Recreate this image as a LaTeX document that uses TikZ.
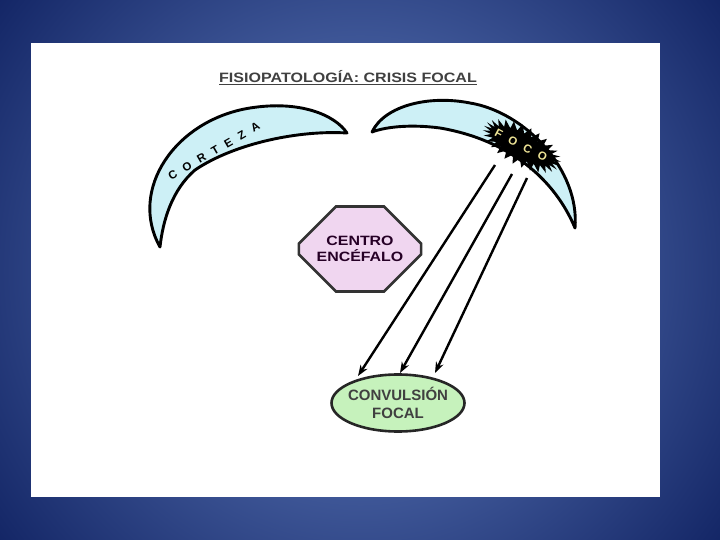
\documentclass[tikz,border=0pt]{standalone}
\usepackage{fontspec}
\setmainfont{Liberation Sans}
\newfontfamily\ancha[FakeStretch=1.18]{Liberation Sans}
\usetikzlibrary{shapes,arrows,arrows.meta,shadows}
\definecolor{celeste}{RGB}{205,240,246}
\definecolor{rosado}{RGB}{240,214,240}
\definecolor{verdoso}{RGB}{198,242,188}
\definecolor{fondoin}{RGB}{105,135,200}
\definecolor{fondoout}{RGB}{16,34,98}
\newcommand{\sep}{\hspace{8pt}}
\tikzstyle{lobulo} = [draw=black, line width=2.9pt, fill=celeste, line join=round]
\tikzstyle{centro} = [chamfered rectangle, chamfered rectangle xsep=22pt, chamfered rectangle ysep=22pt,
minimum width=120pt, minimum height=85pt, draw=black!80, line width=2.6pt, fill=rosado, align=center,
inner sep=0.5ex, text=black!50!violet!60!black, font=\ancha\fontsize{13.5}{15.5}\selectfont\bfseries]
\tikzstyle{io} = [ellipse, minimum width=133pt, minimum height=57pt, draw=black!85, line width=2.6pt,
fill=verdoso, align=center, inner ysep=0.5ex, inner xsep=-3pt, text=black!75,
font=\fontsize{15}{17.5}\selectfont\bfseries]
\tikzstyle{arrow} = [line width=2.4pt,-{Stealth[length=11pt,width=8pt]}]

\begin{document}
\begin{tikzpicture}[x=1pt,y=-1pt]
                        \begin{scope}
                            \clip (0,0) rectangle (720,540);
                            \shade[inner color=fondoin, outer color=fondoout] (360,270) circle (470);
                        \end{scope}
                        \fill[white] (31,43) rectangle (660,497);
                        \node[font=\ancha\fontsize{13.6}{15}\selectfont\bfseries, text=black!75]
                            (titulo) at (348,78) {\underline{FISIOPATOLOGÍA: CRISIS FOCAL}};
                        % corteza izquierda
                        \draw[lobulo] (160,247) .. controls (128,190) and (175,120) .. (250,108)
                            .. controls (300,100) and (335,115) .. (347,133)
                            .. controls (300,130) and (235,143) .. (195,170)
                            .. controls (172,190) and (163,220) .. (160,247) -- cycle;
                        % corteza derecha
                        \draw[lobulo] (372,132) .. controls (385,105) and (430,95) .. (470,103)
                            .. controls (525,112) and (580,170) .. (575,228)
                            .. controls (555,180) and (510,140) .. (440,128)
                            .. controls (410,124) and (385,127) .. (372,132) -- cycle;
                        \node[rotate=30, font=\fontsize{11.5}{12}\selectfont\bfseries]
                            (corteza) at (214,151) {C\sep O\sep R\sep T\sep E\sep Z\sep A};
                        % foco
                        \begin{scope}[shift={(522,146)}, rotate=-28]
                            \fill[black] plot[domain=0:360, samples=57]
                                ({(39+4*cos(28*\x))*cos(\x)}, {(16+4*cos(28*\x))*sin(\x)}) -- cycle;
                        \end{scope}
                        \node[rotate=-28, text={rgb,255:red,238;green,228;blue,150},
                            font=\fontsize{11.5}{12}\selectfont\bfseries]
                            (foco) at (521,145) {F\sep O\sep C\sep O};
                        \node[centro] (encefalo) at (360,249) {CENTRO\\ENCÉFALO};
                        \node[io] (convulsion) at (398,403) {CONVULSIÓN\\FOCAL};
                        \coordinate (f1) at (495,165);
                        \coordinate (f2) at (512,174);
                        \coordinate (f3) at (527,178);
                        \coordinate (c1) at (358,376);
                        \coordinate (c2) at (400,373);
                        \coordinate (c3) at (435,373);
                        \draw[arrow] (f1) -- (c1);
                        \draw[arrow] (f2) -- (c2);
                        \draw[arrow] (f3) -- (c3);
                    \end{tikzpicture}
\end{document}
